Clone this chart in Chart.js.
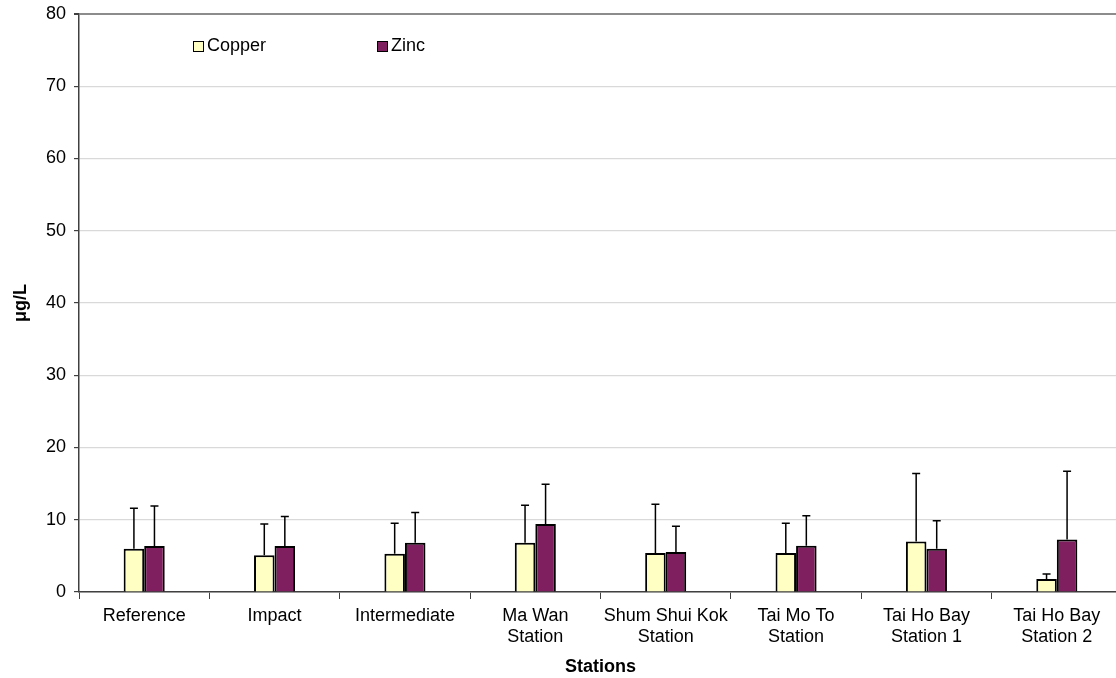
<!DOCTYPE html>
<html>
<head>
<meta charset="utf-8">
<script src="https://cdn.jsdelivr.net/npm/chart.js@4.4.1/dist/chart.umd.min.js"></script>
<style>
  html, body { margin: 0; padding: 0; overflow: hidden; background: #fff; }
  #wrap { width: 1124px; height: 678px; position: relative; }
</style>
</head>
<body>
<div id="wrap"><canvas id="metalChart"></canvas></div>
<script>
// stations (x categories)
const stations = [
  'Reference', 'Impact', 'Intermediate', ['Ma Wan', 'Station'],
  ['Shum Shui Kok', 'Station'], ['Tai Mo To', 'Station'],
  ['Tai Ho Bay', 'Station 1'], ['Tai Ho Bay', 'Station 2']
];
// mean values, ug/L
const copper = [6.0, 5.1, 5.3, 6.8, 5.4, 5.4, 7.0, 1.8];
const zinc   = [6.35, 6.35, 6.8, 9.4, 5.55, 6.4, 6.0, 7.25];
// top of the error bars
const copperErrTop = [11.6, 9.4, 9.5, 12.0, 12.15, 9.5, 16.4, 2.5];
const zincErrTop   = [11.9, 10.45, 11.0, 14.9, 9.1, 10.55, 9.85, 16.7];
const yTicks = [0, 10, 20, 30, 40, 50, 60, 70, 80];

const FONT = "'Liberation Sans', Arial, sans-serif";
const AXIS = '#404040';
const copperColor = '#ffffc4';
const zincColor = '#7f1f5f';

// error bars drawn on top of each bar, upper side only
const errorBars = {
  id: 'errorBars',
  afterDatasetsDraw(chart) {
    const ctx = chart.ctx;
    const y = chart.scales.y;
    const tops = [copperErrTop, zincErrTop];
    ctx.save();
    ctx.strokeStyle = '#000';
    ctx.lineWidth = 1.5;
    chart.data.datasets.forEach((ds, i) => {
      const meta = chart.getDatasetMeta(i);
      meta.data.forEach((bar, j) => {
        const yt = y.getPixelForValue(tops[i][j]);
        ctx.beginPath();
        ctx.moveTo(bar.x, bar.y);
        ctx.lineTo(bar.x, yt);
        ctx.moveTo(bar.x - 4, yt);
        ctx.lineTo(bar.x + 4, yt);
        ctx.stroke();
      });
    });
    ctx.restore();
  }
};

// legend inside the plot, top left
const innerLegend = {
  id: 'innerLegend',
  afterDraw(chart) {
    const ctx = chart.ctx;
    const a = chart.chartArea;
    const items = [
      { text: 'Copper', color: copperColor, dx: 114 },
      { text: 'Zinc', color: zincColor, dx: 298 }
    ];
    ctx.save();
    ctx.font = '18px ' + FONT;
    ctx.textBaseline = 'middle';
    items.forEach(it => {
      const bx = a.left + it.dx, by = a.top + 27;
      ctx.fillStyle = it.color;
      ctx.fillRect(bx, by, 10, 10);
      ctx.strokeStyle = '#000';
      ctx.lineWidth = 1;
      ctx.strokeRect(bx + 0.5, by + 0.5, 10, 10);
      ctx.fillStyle = '#000';
      ctx.fillText(it.text, bx + 14, by + 5);
    });
    ctx.restore();
  }
};

const canvasEl = document.getElementById('metalChart');
new Chart(canvasEl.getContext('2d'), {
  type: 'bar',
  data: {
    labels: stations,
    datasets: [
      { label: 'Copper', data: copper, backgroundColor: copperColor, borderColor: '#000', borderWidth: 2 },
      { label: 'Zinc', data: zinc, backgroundColor: zincColor, borderColor: '#000', borderWidth: 2 }
    ]
  },
  options: {
    responsive: true,
    maintainAspectRatio: false,
    animation: false,
    layout: { padding: { top: 14, right: 2, left: 0, bottom: 0 } },
    datasets: { bar: { categoryPercentage: 0.315, barPercentage: 1 } },
    plugins: { legend: { display: false }, tooltip: { enabled: false } },
    scales: {
      x: {
        offset: true,
        grid: { drawOnChartArea: false, tickLength: 7, tickColor: AXIS, offset: true },
        border: { color: AXIS, width: 1.5 },
        ticks: { color: '#000', font: { family: FONT, size: 18 }, padding: 6, maxRotation: 0, autoSkip: false },
        title: { display: true, text: 'Stations', color: '#000', font: { family: FONT, size: 18, weight: 'bold' }, padding: { top: 0, bottom: 0 } },
        afterFit(s) { s.height = 86; s.paddingLeft = 0; s.paddingRight = 0; }
      },
      y: {
        min: 0, max: 80,
        afterBuildTicks(s) { s.ticks = yTicks.map(v => ({ value: v })); },
        grid: {
          color: c => c.tick && c.tick.value === 80 ? '#8c8c8c' : '#d9d9d9',
          lineWidth: c => c.tick && c.tick.value === 80 ? 2 : 1.2,
          tickColor: AXIS,
          tickLength: 5
        },
        border: { color: AXIS, width: 1.5 },
        ticks: { color: '#000', font: { family: FONT, size: 18 }, padding: 8 },
        title: { display: true, text: 'μg/L', color: '#000', font: { family: FONT, size: 18, weight: 'bold' }, padding: { top: 10, bottom: 0 } },
        afterFit(s) { s.width = 79; s.paddingTop = 0; s.paddingBottom = 0; }
      }
    }
  },
  plugins: [errorBars, innerLegend]
});
</script>
</body>
</html>
